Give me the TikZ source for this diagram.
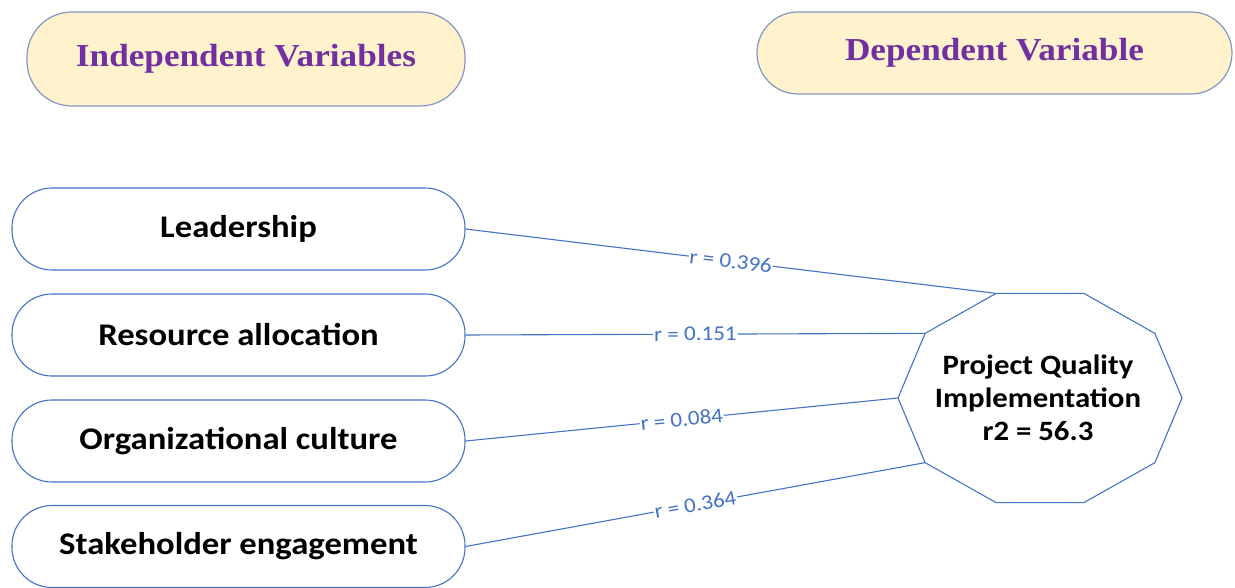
\documentclass[tikz,border=0pt]{standalone}
\usepackage{fontspec}
\newfontfamily\calfont[FakeStretch=1.1]{Carlito}
\newfontfamily\tnrfont[FakeStretch=1.1]{Liberation Serif}
\definecolor{lineblue}{HTML}{4472C4}
\definecolor{titleborder}{HTML}{8496C4}
\definecolor{titlefill}{HTML}{FFF2CC}
\definecolor{titletext}{HTML}{7030A0}
\tikzset{
  titlebox/.style={draw=titleborder, line width=1.2pt, fill=titlefill, text=titletext,
    font=\tnrfont\bfseries\fontsize{32}{36}\selectfont, inner sep=0pt},
  varbox/.style={draw=lineblue, line width=1.1pt, fill=white, rounded corners=40pt,
    minimum width=453pt, minimum height=82pt, inner sep=0pt,
    font=\calfont\bfseries\fontsize{31.5}{36}\selectfont},
  conn/.style={draw=lineblue, line width=1.1pt},
  rlabel/.style={midway, sloped, fill=white, inner sep=1pt, text=lineblue,
    font=\calfont\fontsize{21}{24}\selectfont},
  decagon/.style={draw=lineblue, line width=1.1pt, fill=white},
}
\begin{document}
\begin{tikzpicture}[x=1pt,y=-1pt]
\useasboundingbox (0,0) rectangle (1235,588);
% titles
\node[titlebox, rounded corners=45pt, minimum width=438pt, minimum height=94pt] (indep) at (246,59) {Independent Variables};
\node[titlebox, rounded corners=41pt, minimum width=475pt, minimum height=82pt] (dep) at (994.5,53) {Dependent Variable};
% left variable boxes
\node[varbox] (lead) at (238.5,229) {Leadership};
\node[varbox] (res) at (238.5,335) {Resource allocation};
\node[varbox] (org) at (238.5,441) {Organizational culture};
\node[varbox] (stake) at (238.5,546.5) {Stakeholder engagement};
% decagon
\foreach \k in {0,...,9}{
  \path (1040,398) ++ ({142*cos(\k*36)},{-110*sin(\k*36)}) coordinate (d\k);
}
\draw[decagon] (d0)--(d1)--(d2)--(d3)--(d4)--(d5)--(d6)--(d7)--(d8)--(d9)--cycle;
\node[align=center, font=\calfont\bfseries\fontsize{28}{33}\selectfont] (pq) at (1038,398)
  {Project Quality\\Implementation\\r2 = 56.3};
% connectors
\draw[conn] (lead.east) -- node[rlabel] {r = 0.396} (d3);
\draw[conn] (res.east) -- node[rlabel] {r = 0.151} (d4);
\draw[conn] (org.east) -- node[rlabel] {r = 0.084} (d5);
\draw[conn] (stake.east) -- node[rlabel] {r = 0.364} (d6);
\end{tikzpicture}
\end{document}
